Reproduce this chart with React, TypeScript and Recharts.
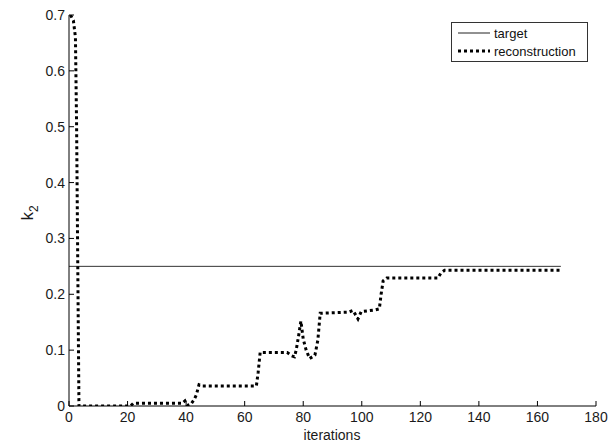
import { LineChart, Line, XAxis, YAxis, Label } from 'recharts';

// iterations vs k2 (reconstruction)
const reconIter = [
  0.5, 1.5, 2.2, 2.6, 3.0, 3.4, 21, 22, 38.7, 39.6, 40.4, 41.6, 42.7, 43.5,
  44.4, 45.2, 64, 64.6, 65.3, 74.5, 76, 77, 77.6, 78.4, 79.2, 80, 81,
  82.2, 84, 85, 85.8, 95.5, 97, 98.7, 99.8, 104.5, 106, 106.6, 107.3,
  108.5, 126, 127, 128.3, 168,
];
const reconK2 = [
  0.7, 0.69, 0.66, 0.5, 0.25, 0.0, 0.0, 0.005, 0.005, 0.009, 0.001, 0.003,
  0.011, 0.02, 0.038, 0.036, 0.036, 0.06, 0.096, 0.096, 0.09, 0.088, 0.1,
  0.125, 0.152, 0.12, 0.1, 0.085, 0.091, 0.118, 0.166, 0.168, 0.171, 0.156,
  0.169, 0.172, 0.174, 0.2, 0.224, 0.229, 0.229, 0.238, 0.243, 0.243,
];
const targetIter = [0, 168];
const targetK2 = [0.25, 0.25];

const xTicks = [0, 20, 40, 60, 80, 100, 120, 140, 160, 180];
const yTicks = [0, 0.1, 0.2, 0.3, 0.4, 0.5, 0.6, 0.7];
const yTickLabels = ['0', '0.1', '0.2', '0.3', '0.4', '0.5', '0.6', '0.7'];

const recon = reconIter.map((it, i) => ({ it, k2: reconK2[i] }));
const target = targetIter.map((it, i) => ({ it, k2: targetK2[i] }));

const font = '"Liberation Sans", Arial, sans-serif';
const tickStyle = { fontSize: 14, fill: '#1a1a1a', fontFamily: font };

function Legend() {
  return (
    <div
      style={{
        position: 'absolute',
        left: 451,
        top: 22,
        width: 135,
        height: 38,
        border: '1px solid #333',
        background: '#fff',
        fontFamily: font,
        fontSize: 13,
        color: '#111',
      }}
    >
      <svg width={135} height={38} style={{ position: 'absolute', left: 0, top: 0 }}>
        <line x1={6} x2={38} y1={10} y2={10} stroke="#222" strokeWidth={1} />
        <line x1={6} x2={38} y1={28} y2={28} stroke="#000" strokeWidth={3} strokeDasharray="3 3" />
        <text x={42} y={14.5} fontSize={13} fontFamily={font} fill="#111">target</text>
        <text x={42} y={32.5} fontSize={13} fontFamily={font} fill="#111">reconstruction</text>
      </svg>
    </div>
  );
}

export default function App() {
  return (
    <div style={{ position: 'absolute', left: 0, top: 0, width: 616, height: 443, background: '#fff' }}>
      <LineChart width={616} height={443} margin={{ top: 15, right: 20, bottom: 0, left: 0 }}>
        <XAxis
          dataKey="it"
          type="number"
          domain={[0, 180]}
          ticks={xTicks}
          interval={0}
          height={37}
          tickSize={-5}
          tickMargin={11}
          stroke="#000"
          tick={tickStyle}
          allowDataOverflow
        >
          <Label
            content={() => (
              <text x={332} y={440} textAnchor="middle" fontSize={14} fontFamily={font} fill="#1a1a1a">
                iterations
              </text>
            )}
          />
        </XAxis>
        <YAxis
          dataKey="k2"
          type="number"
          domain={[0, 0.7]}
          ticks={yTicks}
          interval={0}
          width={69}
          tickSize={-5}
          tickMargin={9}
          stroke="#000"
          tick={tickStyle}
          tickFormatter={(v: number) => yTickLabels[yTicks.indexOf(v)] ?? String(v)}
          allowDataOverflow
        >
          <Label
            content={() => (
              <text
                x={33}
                y={213}
                transform="rotate(-90 33 213)"
                textAnchor="middle"
                fontSize={17}
                fontFamily={font}
                fill="#1a1a1a"
              >
                k<tspan fontSize={12} dy={5}>2</tspan>
              </text>
            )}
          />
        </YAxis>
        <Line
          data={target}
          dataKey="k2"
          type="linear"
          stroke="#333"
          strokeWidth={1}
          dot={false}
          activeDot={false}
          isAnimationActive={false}
        />
        <Line
          data={recon}
          dataKey="k2"
          type="linear"
          stroke="#000"
          strokeWidth={3}
          strokeDasharray="3 3"
          dot={false}
          activeDot={false}
          isAnimationActive={false}
        />
      </LineChart>
      <Legend />
    </div>
  );
}
